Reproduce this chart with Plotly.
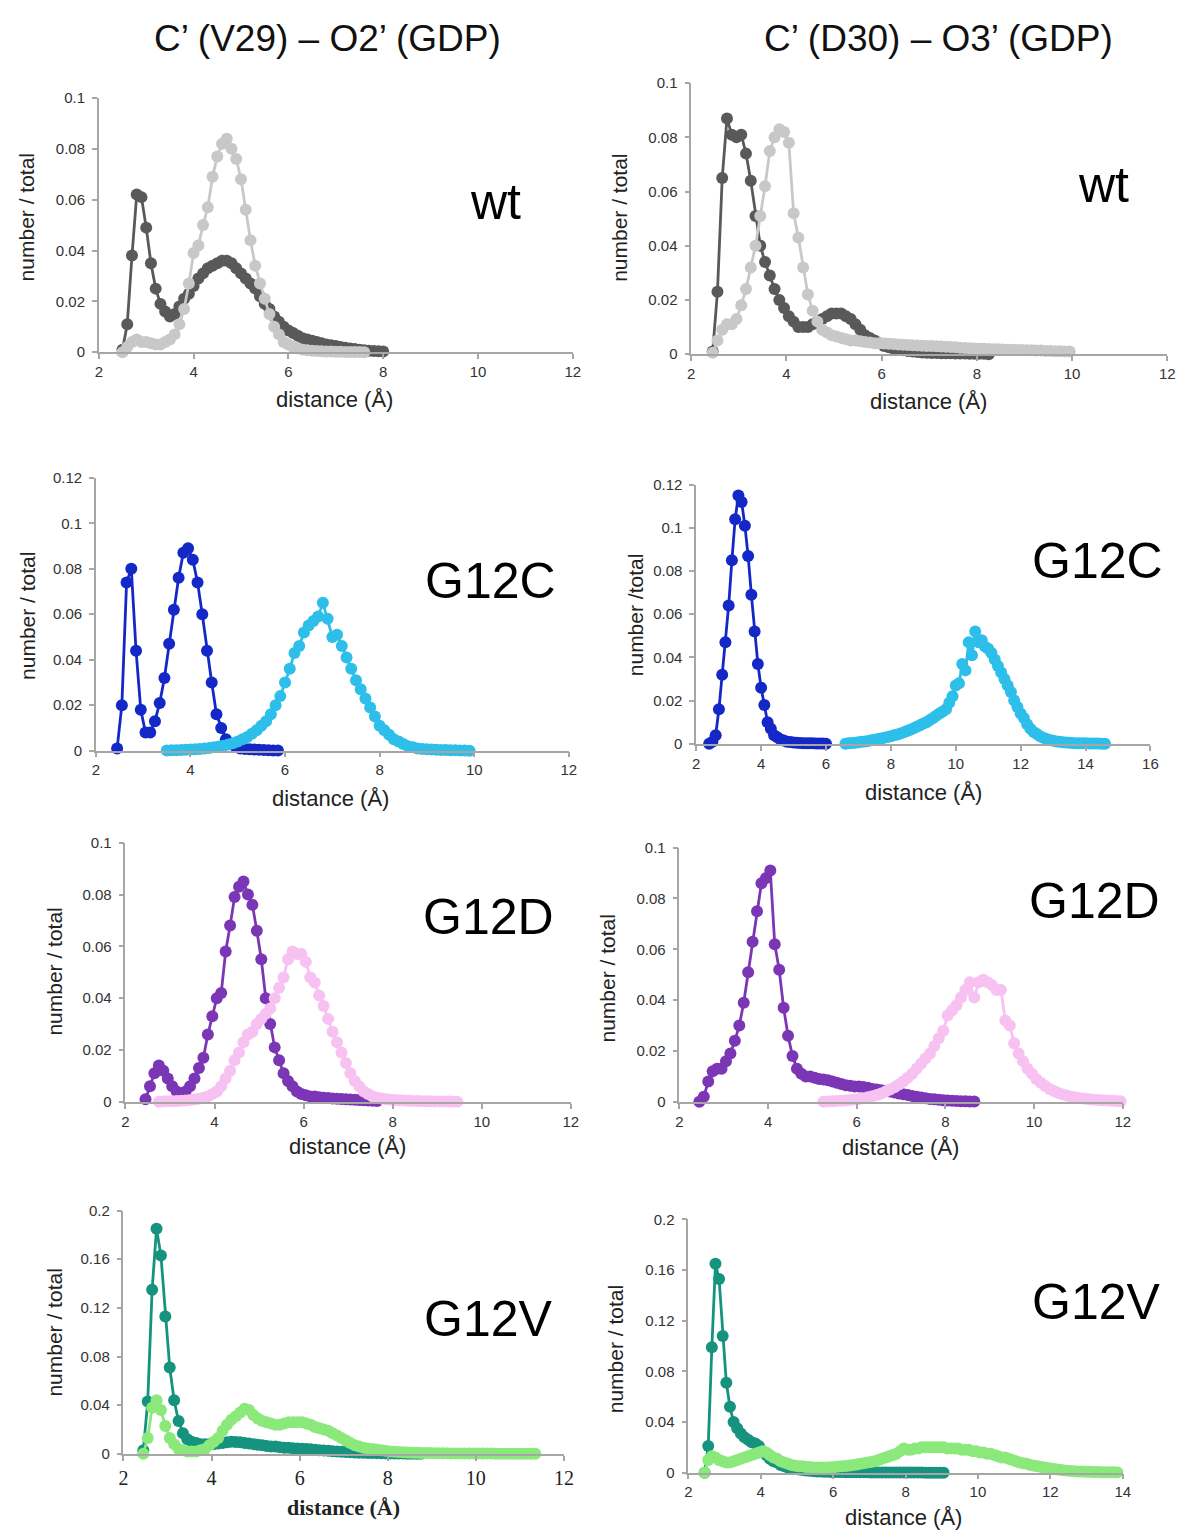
import plotly.graph_objects as go

W, H = 1195, 1539

# ---- data: distance histograms (x grid start, step 0.1 A) ----
STEP = 0.1

wt_v29_x0 = (2.5, 2.5)
wt_v29_dark = [0.001, 0.011, 0.038, 0.062, 0.061, 0.049, 0.035, 0.025, 0.019, 0.016,
               0.014, 0.015, 0.018, 0.021, 0.023, 0.026, 0.029, 0.031, 0.033, 0.034,
               0.035, 0.036, 0.036, 0.035, 0.033, 0.031, 0.029, 0.027, 0.025, 0.022,
               0.019, 0.017, 0.014, 0.012, 0.010, 0.0085, 0.0075, 0.0065, 0.0055, 0.005,
               0.0045, 0.004, 0.0035, 0.003, 0.0027, 0.0024, 0.002, 0.0017, 0.0014, 0.0012,
               0.001, 0.0008, 0.0006, 0.0005, 0.0004, 0.0003]
wt_v29_light = [0.0, 0.002, 0.004, 0.005, 0.004, 0.004, 0.0035, 0.003, 0.003, 0.004,
                0.005, 0.007, 0.011, 0.017, 0.027, 0.039, 0.042, 0.050, 0.057, 0.069,
                0.077, 0.082, 0.084, 0.080, 0.076, 0.068, 0.056, 0.044, 0.034, 0.027,
                0.021, 0.015, 0.010, 0.007, 0.004, 0.003, 0.002, 0.0015, 0.001, 0.0008,
                0.0006, 0.0005, 0.0004, 0.0003, 0.0003, 0.0002, 0.0002, 0.0001, 0.0001, 0.0001,
                0.0001, 0.0]

wt_d30_x0 = (2.45, 2.45)
wt_d30_dark = [0.001, 0.023, 0.065, 0.087, 0.081, 0.080, 0.081, 0.074, 0.064, 0.051,
               0.040, 0.034, 0.029, 0.024, 0.020, 0.017, 0.014, 0.012, 0.010, 0.010,
               0.010, 0.011, 0.012, 0.013, 0.014, 0.015, 0.015, 0.015, 0.014, 0.013,
               0.011, 0.009, 0.007, 0.006, 0.005, 0.004, 0.003, 0.0025, 0.002, 0.0017,
               0.0014, 0.0012, 0.001, 0.0008, 0.0006, 0.0005, 0.0004, 0.0004, 0.0003, 0.0003,
               0.0003, 0.0002, 0.0002, 0.0002, 0.0001, 0.0001, 0.0001, 0.0001, 0.0]
wt_d30_light = [0.0005, 0.005, 0.009, 0.011, 0.011, 0.013, 0.018, 0.024, 0.032, 0.040,
                0.051, 0.062, 0.075, 0.080, 0.083, 0.082, 0.078, 0.052, 0.043, 0.032,
                0.022, 0.016, 0.012, 0.009, 0.008, 0.007, 0.0065, 0.006, 0.0055, 0.005,
                0.005, 0.0048, 0.0045, 0.0043, 0.004, 0.004, 0.0039, 0.0038, 0.0037, 0.0036,
                0.0035, 0.0034, 0.0033, 0.0032, 0.0031, 0.003, 0.003, 0.0029, 0.0028, 0.0027,
                0.0026, 0.0025, 0.0024, 0.0023, 0.0022, 0.0021, 0.002, 0.002, 0.0019, 0.0018,
                0.0018, 0.0017, 0.0016, 0.0016, 0.0015, 0.0015, 0.0014, 0.0014, 0.0013, 0.0013,
                0.0012, 0.0012, 0.0011, 0.0011, 0.001, 0.001]

g12c_v29_x0 = (2.45, 3.5)
g12c_v29_dark = [0.001, 0.020, 0.074, 0.080, 0.044, 0.018, 0.008, 0.008, 0.013, 0.021,
                 0.032, 0.047, 0.062, 0.076, 0.087, 0.089, 0.084, 0.074, 0.060, 0.044,
                 0.030, 0.016, 0.010, 0.005, 0.003, 0.002, 0.001, 0.0008, 0.0006, 0.0005,
                 0.0004, 0.0003, 0.0002, 0.0001, 0.0001]
g12c_v29_light = [0.0001, 0.0002, 0.0002, 0.0003, 0.0004, 0.0005, 0.0006, 0.0008, 0.001, 0.0012,
                  0.0015, 0.0018, 0.0022, 0.0027, 0.0033, 0.004, 0.005, 0.006, 0.0075, 0.009,
                  0.011, 0.013, 0.016, 0.020, 0.024, 0.030, 0.036, 0.043, 0.046, 0.052,
                  0.055, 0.057, 0.059, 0.065, 0.058, 0.050, 0.051, 0.046, 0.041, 0.036,
                  0.031, 0.027, 0.023, 0.019, 0.015, 0.011, 0.009, 0.007, 0.005, 0.004,
                  0.003, 0.002, 0.0015, 0.001, 0.0008, 0.0006, 0.0005, 0.0004, 0.0003, 0.0003,
                  0.0002, 0.0002, 0.0001, 0.0001, 0.0]

g12c_d30_x0 = (2.4, 6.6)
g12c_d30_dark = [0.0, 0.001, 0.004, 0.016, 0.032, 0.047, 0.064, 0.085, 0.104, 0.115,
                 0.112, 0.101, 0.087, 0.069, 0.052, 0.037, 0.026, 0.018, 0.010, 0.007,
                 0.004, 0.003, 0.002, 0.0015, 0.001, 0.0008, 0.0006, 0.0005, 0.0004, 0.0003,
                 0.0003, 0.0002, 0.0002, 0.0001, 0.0001, 0.0001, 0.0]
g12c_d30_light = [0.0, 0.0002, 0.0004, 0.0005, 0.0007, 0.0009, 0.0011, 0.0013, 0.0016, 0.0019,
                  0.0022, 0.0025, 0.0028, 0.0031, 0.0035, 0.0039, 0.0043, 0.0048, 0.0053, 0.0059,
                  0.0065, 0.0072, 0.0079, 0.0086, 0.0094, 0.010, 0.011, 0.012, 0.013, 0.014,
                  0.015, 0.016, 0.019, 0.022, 0.027, 0.028, 0.037, 0.034, 0.047, 0.041,
                  0.052, 0.047, 0.048, 0.045, 0.044, 0.042, 0.039, 0.036, 0.033, 0.030,
                  0.027, 0.024, 0.020, 0.017, 0.014, 0.012, 0.009, 0.007, 0.0055, 0.0045,
                  0.0035, 0.0028, 0.0022, 0.0018, 0.0014, 0.0011, 0.0009, 0.0007, 0.0006, 0.0005,
                  0.0004, 0.0003, 0.0003, 0.0002, 0.0002, 0.0001, 0.0001, 0.0001, 0.0001, 0.0, 0.0]

g12d_v29_x0 = (2.45, 2.75)
g12d_v29_dark = [0.001, 0.006, 0.011, 0.014, 0.012, 0.009, 0.006, 0.004, 0.003, 0.004,
                 0.006, 0.009, 0.013, 0.017, 0.026, 0.033, 0.040, 0.042, 0.058, 0.068,
                 0.079, 0.083, 0.085, 0.080, 0.076, 0.066, 0.055, 0.040, 0.030, 0.021,
                 0.016, 0.011, 0.008, 0.006, 0.004, 0.003, 0.0025, 0.002, 0.002, 0.0018,
                 0.0016, 0.0015, 0.0013, 0.0012, 0.0011, 0.001, 0.0009, 0.0008, 0.0007, 0.0006,
                 0.0005, 0.0004, 0.0003]
g12d_v29_light = [0.0, 0.0001, 0.0002, 0.0002, 0.0003, 0.0004, 0.0005, 0.0007, 0.0009, 0.0012,
                  0.0016, 0.002, 0.003, 0.004, 0.006, 0.009, 0.012, 0.016, 0.019, 0.023,
                  0.026, 0.027, 0.030, 0.032, 0.034, 0.036, 0.040, 0.044, 0.048, 0.055,
                  0.058, 0.057, 0.057, 0.054, 0.048, 0.046, 0.041, 0.037, 0.032, 0.027,
                  0.023, 0.019, 0.015, 0.011, 0.008, 0.006, 0.004, 0.003, 0.002, 0.0016,
                  0.0013, 0.001, 0.0008, 0.0007, 0.0006, 0.0005, 0.0004, 0.0003, 0.0003, 0.0002,
                  0.0002, 0.0002, 0.0001, 0.0001, 0.0001, 0.0001, 0.0, 0.0]

g12d_d30_x0 = (2.45, 5.25)
g12d_d30_dark = [0.0, 0.002, 0.008, 0.012, 0.013, 0.013, 0.016, 0.019, 0.024, 0.030,
                 0.039, 0.051, 0.063, 0.075, 0.086, 0.088, 0.091, 0.062, 0.052, 0.037,
                 0.026, 0.018, 0.013, 0.011, 0.010, 0.010, 0.0095, 0.009, 0.0088, 0.0085,
                 0.008, 0.0075, 0.007, 0.0065, 0.0063, 0.006, 0.006, 0.0058, 0.0055, 0.005,
                 0.0048, 0.0045, 0.0042, 0.004, 0.0037, 0.0033, 0.003, 0.0027, 0.0023, 0.002,
                 0.0017, 0.0014, 0.0011, 0.001, 0.0008, 0.0006, 0.0005, 0.0004, 0.0003, 0.0002,
                 0.0002, 0.0001, 0.0001]
g12d_d30_light = [0.0, 0.0001, 0.0002, 0.0003, 0.0004, 0.0005, 0.0007, 0.0009, 0.0011, 0.0014,
                  0.0018, 0.0022, 0.0027, 0.0033, 0.004, 0.0048, 0.0057, 0.0068, 0.008, 0.0095,
                  0.011, 0.013, 0.015, 0.017, 0.019, 0.022, 0.025, 0.028, 0.034, 0.036,
                  0.038, 0.041, 0.044, 0.047, 0.041, 0.047, 0.048, 0.047, 0.046, 0.044,
                  0.044, 0.032, 0.030, 0.023, 0.019, 0.016, 0.013, 0.011, 0.009, 0.0075,
                  0.0062, 0.005, 0.0042, 0.0035, 0.0029, 0.0024, 0.002, 0.0017, 0.0014, 0.0012,
                  0.001, 0.0008, 0.0007, 0.0006, 0.0005, 0.0004, 0.0003, 0.0002]

g12v_v29_x0 = (2.45, 2.45)
g12v_v29_dark = [0.003, 0.043, 0.135, 0.185, 0.163, 0.113, 0.071, 0.044, 0.027, 0.017,
                 0.012, 0.010, 0.009, 0.008, 0.008, 0.008, 0.008, 0.0085, 0.009, 0.0095,
                 0.010, 0.0098, 0.0095, 0.009, 0.0085, 0.008, 0.0075, 0.007, 0.0065, 0.006,
                 0.006, 0.0055, 0.005, 0.005, 0.0047, 0.0045, 0.0042, 0.004, 0.0037, 0.0033,
                 0.003, 0.0027, 0.0025, 0.0022, 0.002, 0.0017, 0.0015, 0.0013, 0.0012, 0.001,
                 0.0009, 0.0008, 0.0007, 0.0006, 0.0005, 0.0004, 0.0003, 0.0003, 0.0002, 0.0002,
                 0.0001, 0.0001, 0.0001, 0.0]
g12v_v29_light = [0.0, 0.013, 0.038, 0.044, 0.036, 0.023, 0.013, 0.008, 0.004, 0.003,
                  0.002, 0.002, 0.002, 0.003, 0.004, 0.007, 0.010, 0.013, 0.019, 0.024,
                  0.028, 0.031, 0.034, 0.037, 0.036, 0.032, 0.029, 0.027, 0.026, 0.025,
                  0.024, 0.024, 0.025, 0.026, 0.026, 0.026, 0.026, 0.025, 0.024, 0.022,
                  0.021, 0.020, 0.019, 0.017, 0.015, 0.013, 0.011, 0.009, 0.007, 0.006,
                  0.005, 0.0045, 0.004, 0.0035, 0.003, 0.0025, 0.002, 0.0018, 0.0015, 0.0013,
                  0.0012, 0.001, 0.0009, 0.0008, 0.0007, 0.0007, 0.0006, 0.0006, 0.0005, 0.0005,
                  0.0004, 0.0004, 0.0004, 0.0003, 0.0003, 0.0003, 0.0002, 0.0002, 0.0002, 0.0002,
                  0.0001, 0.0001, 0.0001, 0.0001, 0.0001, 0.0001, 0.0, 0.0, 0.0, 0.0]

g12v_d30_x0 = (2.45, 2.45)
g12v_d30_dark = [0.0, 0.021, 0.099, 0.165, 0.153, 0.108, 0.071, 0.052, 0.040, 0.035,
                 0.031, 0.028, 0.026, 0.024, 0.023, 0.021, 0.017, 0.014, 0.011, 0.009,
                 0.008, 0.006, 0.005, 0.004, 0.0035, 0.003, 0.0025, 0.002, 0.0017, 0.0015,
                 0.0012, 0.001, 0.0009, 0.0008, 0.0007, 0.0006, 0.0006, 0.0005, 0.0005, 0.0004,
                 0.0004, 0.0004, 0.0003, 0.0003, 0.0003, 0.0003, 0.0002, 0.0002, 0.0002, 0.0002,
                 0.0002, 0.0001, 0.0001, 0.0001, 0.0001, 0.0001, 0.0001, 0.0001, 0.0001, 0.0001,
                 0.0001, 0.0, 0.0, 0.0, 0.0, 0.0, 0.0]
g12v_d30_light = [0.0, 0.010, 0.013, 0.012, 0.010, 0.009, 0.008, 0.008, 0.009, 0.010,
                  0.011, 0.012, 0.013, 0.014, 0.015, 0.016, 0.017, 0.016, 0.014, 0.012,
                  0.011, 0.009, 0.008, 0.007, 0.006, 0.0055, 0.005, 0.005, 0.0045, 0.0045,
                  0.004, 0.004, 0.004, 0.004, 0.004, 0.0042, 0.0045, 0.0048, 0.005, 0.0053,
                  0.0056, 0.006, 0.0065, 0.007, 0.0075, 0.008, 0.0085, 0.009, 0.010, 0.011,
                  0.012, 0.013, 0.014, 0.015, 0.017, 0.019, 0.018, 0.018, 0.019, 0.019,
                  0.020, 0.020, 0.020, 0.020, 0.020, 0.020, 0.020, 0.019, 0.019, 0.019,
                  0.019, 0.018, 0.018, 0.018, 0.017, 0.017, 0.016, 0.016, 0.015, 0.015,
                  0.014, 0.013, 0.012, 0.012, 0.011, 0.010, 0.009, 0.008, 0.0075, 0.007,
                  0.006, 0.0055, 0.005, 0.0045, 0.004, 0.0035, 0.003, 0.0026, 0.0022, 0.0019,
                  0.0016, 0.0014, 0.0012, 0.001, 0.0009, 0.0008, 0.0007, 0.0006, 0.0005, 0.0005,
                  0.0004, 0.0004, 0.0003, 0.0003, 0.0002]

col_titles = ["C\u2019 (V29) \u2013 O2\u2019 (GDP)", "C\u2019 (D30) \u2013 O3\u2019 (GDP)"]

# panel: data, colours, axis ranges, label, pixel box (left, right, top, bottom)
panels = [
    dict(d=(wt_v29_dark, wt_v29_light), x0=wt_v29_x0, c=("#595959", "#c8c8c8"),
         xmax=12, ymax=0.1, dy=0.02, lab="wt", box=(95, 575, 90, 347),
         lab_xy=(497, 195), ytitle="number / total", yt_xy=(22, 211), xt_xy=(334, 395)),
    dict(d=(wt_d30_dark, wt_d30_light), x0=wt_d30_x0, c=("#595959", "#c8c8c8"),
         xmax=12, ymax=0.1, dy=0.02, lab="wt", box=(695, 1177, 75, 349),
         lab_xy=(1112, 178), ytitle="number / total", yt_xy=(622, 211), xt_xy=(935, 397)),
    dict(d=(g12c_v29_dark, g12c_v29_light), x0=g12c_v29_x0, c=("#1428c8", "#2dbfea"),
         xmax=12, ymax=0.12, dy=0.02, lab="G12C", box=(92, 571, 474, 750),
         lab_xy=(492, 578), ytitle="number / total", yt_xy=(22, 614), xt_xy=(330, 798)),
    dict(d=(g12c_d30_dark, g12c_d30_light), x0=g12c_d30_x0, c=("#1428c8", "#2dbfea"),
         xmax=16, ymax=0.12, dy=0.02, lab="G12C", box=(700, 1160, 481, 743),
         lab_xy=(1106, 558), ytitle="number /total", yt_xy=(638, 612), xt_xy=(930, 792)),
    dict(d=(g12d_v29_dark, g12d_v29_light), x0=g12d_v29_x0, c=("#7b36b6", "#f7c2f2"),
         xmax=12, ymax=0.1, dy=0.02, lab="G12D", box=(122, 573, 843, 1105),
         lab_xy=(490, 918), ytitle="number / total", yt_xy=(50, 973), xt_xy=(347, 1150)),
    dict(d=(g12d_d30_dark, g12d_d30_light), x0=g12d_d30_x0, c=("#7b36b6", "#f7c2f2"),
         xmax=12, ymax=0.1, dy=0.02, lab="G12D", box=(683, 1132, 848, 1105),
         lab_xy=(1103, 902), ytitle="number / total", yt_xy=(610, 980), xt_xy=(907, 1151)),
    dict(d=(g12v_v29_dark, g12v_v29_light), x0=g12v_v29_x0, c=("#15937e", "#8be97c"),
         xmax=12, ymax=0.2, dy=0.04, lab="G12V", box=(120, 566, 1215, 1461),
         lab_xy=(490, 1325), ytitle="number / total", yt_xy=(50, 1338), xt_xy=(343, 1515),
         serif=True),
    dict(d=(g12v_d30_dark, g12v_d30_light), x0=g12v_d30_x0, c=("#15937e", "#8be97c"),
         xmax=14, ymax=0.2, dy=0.04, lab="G12V", box=(692, 1132, 1224, 1480),
         lab_xy=(1105, 1307), ytitle="number / total", yt_xy=(618, 1355), xt_xy=(910, 1525)),
]

SANS = "Liberation Sans, Arial, sans-serif"
SERIF = "Liberation Serif, Cambria, serif"
AXIS_COL = "#a6a6a6"


def fx(x):
    return x / W


def fy(y):
    return 1 - y / H


fig = go.Figure()
annotations = []
layout = {}

for i, p in enumerate(panels, start=1):
    xa, ya = "x%d" % i, "y%d" % i
    for ys, x0, col in zip(p["d"], p["x0"], p["c"]):
        xs = [round(x0 + STEP * k, 2) for k in range(len(ys))]
        fig.add_trace(go.Scatter(
            x=xs, y=ys, xaxis=xa, yaxis=ya, mode="lines+markers",
            line=dict(color=col, width=2.8),
            marker=dict(color=col, size=12),
            cliponaxis=False, showlegend=False, hoverinfo="skip"))

    l, r, t, b = p["box"]
    serif = p.get("serif", False)
    layout["xaxis%d" % i] = dict(
        domain=[fx(l), fx(r)], range=[2, p["xmax"]], anchor=ya,
        tick0=2, dtick=2, showline=True, linecolor=AXIS_COL, linewidth=1.5,
        ticks="outside", ticklen=5, tickcolor=AXIS_COL, tickwidth=1.5,
        showgrid=False, zeroline=False, fixedrange=True,
        tickfont=dict(family=SERIF if serif else SANS, size=20 if serif else 15,
                      color="#333333" if not serif else "#222222"))
    layout["yaxis%d" % i] = dict(
        domain=[fy(b), fy(t)], range=[0, p["ymax"]], anchor=xa,
        tick0=0, dtick=p["dy"], showline=True, linecolor=AXIS_COL, linewidth=1.5,
        ticks="outside", ticklen=5, tickcolor=AXIS_COL, tickwidth=1.5,
        showgrid=False, zeroline=False, fixedrange=True, ticklabelstandoff=4,
        tickfont=dict(family=SANS, size=15, color="#333333"))

    # panel label
    annotations.append(dict(
        x=fx(p["lab_xy"][0]), y=fy(p["lab_xy"][1]), xref="paper", yref="paper",
        text=p["lab"], showarrow=False, xanchor="center", yanchor="middle",
        font=dict(family=SANS, size=50, color="#000000")))
    # axis titles
    annotations.append(dict(
        x=fx(p["yt_xy"][0]), y=fy(p["yt_xy"][1]), xref="paper", yref="paper",
        text=p["ytitle"], textangle=-90, showarrow=False,
        xanchor="center", yanchor="middle",
        font=dict(family=SANS, size=21, color="#222222")))
    annotations.append(dict(
        x=fx(p["xt_xy"][0]), y=fy(p["xt_xy"][1]), xref="paper", yref="paper",
        text="<b>distance (\u00c5)</b>" if serif else "distance (\u00c5)",
        showarrow=False, xanchor="center", yanchor="middle",
        font=dict(family=SERIF if serif else SANS, size=22, color="#222222")))

for title, cx in zip(col_titles, (327, 945)):
    annotations.append(dict(
        x=fx(cx), y=fy(30), xref="paper", yref="paper", text=title,
        showarrow=False, xanchor="center", yanchor="middle",
        font=dict(family=SANS, size=37, color="#111111")))

fig.update_layout(
    width=W, height=H, margin=dict(l=0, r=0, t=0, b=0),
    paper_bgcolor="white", plot_bgcolor="white",
    annotations=annotations, **layout)

# drop the browser's default body margin so the figure sits at the page origin
fig.write_html("out.html", config={"displayModeBar": False},
               post_script="document.body.style.margin = '0';")
